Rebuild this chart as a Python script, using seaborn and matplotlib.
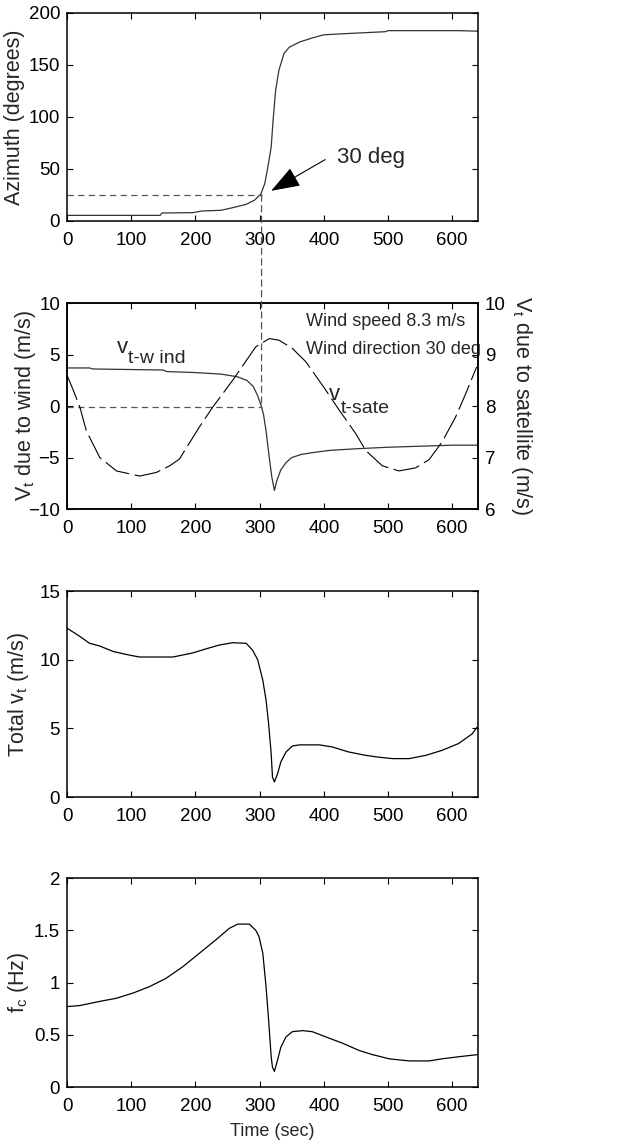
import matplotlib
matplotlib.use("Agg")
import matplotlib.pyplot as plt
import seaborn as sns
import pandas as pd
from matplotlib.patches import ConnectionPatch

# ---------------- data ----------------
az_time = [0, 145, 148, 196, 210, 240, 258, 279, 292, 302, 308, 312, 318, 321, 325,
           330, 338, 346, 362, 382, 400, 429, 496, 500, 610, 640]
az_deg = [5.4, 5.4, 7.7, 8.0, 9.6, 10.3, 12.8, 16, 20, 26, 36, 49, 71, 97, 126,
          145, 161, 167, 172, 176, 179, 180, 182, 183, 183, 182.5]

wind_time = [0, 35, 40, 150, 155, 200, 240, 265, 280, 290, 297, 302, 306, 310, 315,
             319, 323, 327, 333, 341, 350, 365, 385, 410, 450, 500, 550, 600, 640]
wind_vt = [3.7, 3.7, 3.6, 3.5, 3.35, 3.25, 3.1, 2.85, 2.5, 1.9, 1.0, 0.1, -0.8, -2.4, -5.0,
           -6.9, -8.2, -7.2, -6.2, -5.5, -5.0, -4.7, -4.5, -4.3, -4.15, -4.0, -3.9, -3.8, -3.8]

sate_time = [0, 10, 20, 30, 51, 77, 113, 139, 160, 175, 206, 227, 258, 294, 315, 330,
             351, 372, 403, 424, 450, 465, 491, 517, 543, 564, 584, 605, 621, 638]
sate_vt = [8.6, 8.3, 7.98, 7.52, 7.0, 6.74, 6.64, 6.71, 6.84, 6.97, 7.59, 7.98, 8.5, 9.15,
           9.31, 9.28, 9.12, 8.86, 8.31, 7.92, 7.46, 7.14, 6.84, 6.74, 6.8, 6.96, 7.3, 7.78,
           8.24, 8.76]

total_time = [0, 20, 35, 51, 72, 97, 113, 165, 196, 217, 237, 258, 279, 289, 297, 305,
              310, 314, 318, 320, 323, 328, 333, 341, 351, 362, 393, 413, 439, 465, 486,
              507, 533, 559, 584, 610, 631, 639]
total_vt = [12.3, 11.7, 11.2, 11.0, 10.6, 10.34, 10.2, 10.2, 10.5, 10.8, 11.07, 11.24, 11.2,
            10.7, 10.0, 8.5, 7.06, 5.35, 3.16, 1.46, 1.1, 1.7, 2.55, 3.28, 3.72, 3.8, 3.8,
            3.65, 3.28, 3.04, 2.9, 2.8, 2.8, 3.04, 3.4, 3.9, 4.6, 5.1]

fc_time = [0, 20, 51, 77, 103, 128, 154, 180, 206, 232, 253, 266, 284, 294, 299, 305,
           310, 314, 318, 320, 323, 328, 333, 341, 351, 367, 382, 403, 429, 455, 476,
           502, 533, 564, 584, 610, 639]
fc_hz = [0.77, 0.78, 0.82, 0.85, 0.9, 0.96, 1.04, 1.15, 1.28, 1.41, 1.52, 1.56, 1.56, 1.5,
         1.44, 1.28, 0.96, 0.64, 0.29, 0.19, 0.15, 0.26, 0.38, 0.48, 0.53, 0.54, 0.53,
         0.48, 0.42, 0.35, 0.31, 0.27, 0.25, 0.25, 0.27, 0.29, 0.31]

ref_time = [0, 303]
ref_az = [25, 25]
ref_vt = [-0.1, -0.1]

xticks = [0, 100, 200, 300, 400, 500, 600]

# ---------------- style ----------------
sns.set_style("ticks")
plt.rcParams.update({
    "font.family": ["Liberation Sans", "DejaVu Sans"],
    "mathtext.fontset": "custom",
    "mathtext.rm": "Liberation Sans",
    "mathtext.it": "Liberation Sans",
    "mathtext.default": "regular",
    "xtick.direction": "in", "ytick.direction": "in",
    "xtick.top": True, "ytick.right": True,
    "xtick.major.size": 4, "ytick.major.size": 4,
    "xtick.major.width": 0.8, "ytick.major.width": 0.8,
    "axes.edgecolor": "black", "axes.linewidth": 1.1,
    "xtick.color": "black", "ytick.color": "black",
    "font.size": 13,
})

fig = plt.figure(figsize=(6.39, 11.48), dpi=100)
L, W = 0.1049, 0.643
ax1 = fig.add_axes([L, 0.8075, W, 0.1812])
ax2 = fig.add_axes([L, 0.5566, W, 0.1794])
ax3 = fig.add_axes([L, 0.3057, W, 0.1794])
ax4 = fig.add_axes([L, 0.0531, W, 0.1820])

dash_ref = (0, (5, 3.5))
lw = 0.9
ylab_fs = 15.5

# ----- Azimuth -----
sns.lineplot(x=az_time, y=az_deg, ax=ax1, color="#333333", linewidth=lw, estimator=None)
sns.lineplot(x=ref_time, y=ref_az, ax=ax1, color="#555555", linewidth=0.9,
             linestyle=dash_ref, estimator=None)
ax1.set_ylim(0, 200)
ax1.set_yticks([0, 50, 100, 150, 200])
ax1.set_ylabel("Azimuth (degrees)", va="center", fontsize=ylab_fs)
ax1.yaxis.set_label_coords(-0.127, 0.5)
ax1.annotate("", xy=(318, 29), xytext=(402, 59),
             arrowprops=dict(arrowstyle="-|>,head_length=1.4,head_width=0.5",
                             mutation_scale=13, color="black", lw=0.8,
                             shrinkA=0, shrinkB=0))
ax1.text(420, 56, "30 deg", fontsize=16, va="baseline", ha="left")

# ----- V_t due to wind / satellite -----
ax2r = ax2.twinx()
sns.lineplot(x=wind_time, y=wind_vt, ax=ax2, color="#333333", linewidth=lw, estimator=None)
sns.lineplot(x=sate_time, y=sate_vt, ax=ax2r, color="black", linewidth=0.8,
             linestyle=(0, (24, 5)), estimator=None)
sns.lineplot(x=ref_time, y=ref_vt, ax=ax2, color="#555555", linewidth=0.9,
             linestyle=dash_ref, estimator=None)
ax2.set_ylim(-10, 10)
ax2.set_yticks([-10, -5, 0, 5, 10])
ax2r.set_ylim(6, 10)
ax2r.set_yticks([6, 7, 8, 9, 10])
ax2.yaxis.tick_left()
ax2.tick_params(axis="y", direction="in")
ax2r.tick_params(axis="y", direction="in", right=True, left=False)
ax2.set_ylabel("V$_t$ due to wind (m/s)", va="center", fontsize=ylab_fs)
ax2.yaxis.set_label_coords(-0.102, 0.5)
ax2r.set_ylabel("V$_t$ due to satellite (m/s)", rotation=-90, va="center", fontsize=ylab_fs)
ax2r.yaxis.set_label_coords(1.105, 0.5)
ax2.text(372, 7.8, "Wind speed 8.3 m/s", fontsize=13, va="baseline")
ax2.text(372, 5.1, "Wind direction 30 deg", fontsize=13, va="baseline")
ax2.text(77, 5.2, "v", fontsize=16, va="baseline")
ax2.text(95, 4.2, "t-w ind", fontsize=14, va="baseline")
ax2.text(408, 0.55, "v", fontsize=16, va="baseline")
ax2.text(426, -0.7, "t-sate", fontsize=14, va="baseline")

con = ConnectionPatch(xyA=(303, 25), coordsA=ax1.transData,
                      xyB=(303, -0.1), coordsB=ax2.transData,
                      color="#555555", linewidth=0.9, linestyle=dash_ref)
fig.add_artist(con)

# ----- Total v_t -----
sns.lineplot(x=total_time, y=total_vt, ax=ax3, color="black", linewidth=lw, estimator=None)
ax3.set_ylim(0, 15)
ax3.set_yticks([0, 5, 10, 15])
ax3.set_ylabel("Total v$_t$ (m/s)", va="center", fontsize=ylab_fs)
ax3.yaxis.set_label_coords(-0.119, 0.5)

# ----- f_c -----
sns.lineplot(x=fc_time, y=fc_hz, ax=ax4, color="black", linewidth=lw, estimator=None)
ax4.set_ylim(0, 2)
ax4.set_yticks([0, 0.5, 1, 1.5, 2])
ax4.set_yticklabels(["0", "0.5", "1", "1.5", "2"])
ax4.set_ylabel("f$_c$ (Hz)", va="center", fontsize=ylab_fs)
ax4.yaxis.set_label_coords(-0.119, 0.5)
ax4.set_xlabel("Time (sec)", labelpad=6)

for ax in (ax1, ax2, ax3, ax4):
    ax.set_xlim(0, 640)
    ax.set_xticks(xticks)
    ax.tick_params(labelsize=13.5)
    ax.tick_params(axis="x", pad=8)
    ax.tick_params(axis="y", pad=5)
    for s in ax.spines.values():
        s.set_visible(True)
ax2r.tick_params(labelsize=13.5, pad=5)
ax2r.spines["top"].set_visible(True)

fig.savefig("out.png", dpi=100)
